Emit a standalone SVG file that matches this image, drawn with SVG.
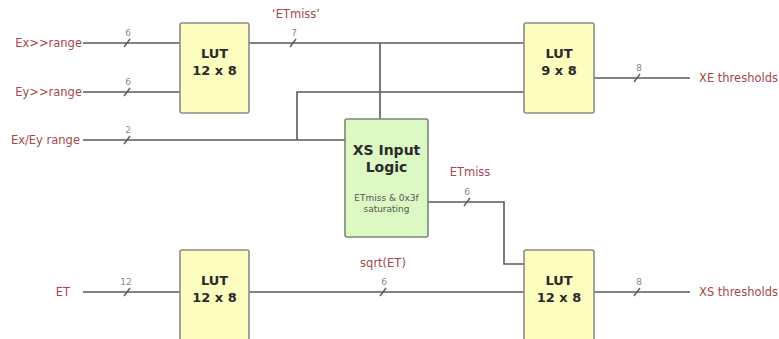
<svg xmlns="http://www.w3.org/2000/svg" width="779" height="339" viewBox="0 0 779 339">
  <style>
    .wire { fill: none; stroke: #5a5a5a; stroke-width: 1.6; }
    .tick { stroke: #5a5a5a; stroke-width: 1.4; }
    .lut { fill: #fdfdc0; stroke: #8c8c80; stroke-width: 1.6; }
    .logic { fill: #dcf9c4; stroke: #7c8874; stroke-width: 1.6; }
    .title { font-family: "DejaVu Sans", sans-serif; font-weight: bold; font-size: 13px; fill: #2a2a2a; text-anchor: middle; }
    .sub { font-family: "DejaVu Sans", sans-serif; font-size: 9px; fill: #555; text-anchor: middle; }
    .sig { font-family: "DejaVu Sans", sans-serif; font-size: 11.5px; fill: #a8464c; }
    .width { font-family: "DejaVu Sans", sans-serif; font-size: 9px; fill: #8a8a8a; text-anchor: middle; }
  </style>

  <g id="connectors">
    <!-- inputs to first LUT -->
    <path class="wire" d="M83 43 H180"/>
    <path class="wire" d="M83 92 H180"/>
    <!-- range bits into XS input logic -->
    <path class="wire" d="M83 140 H345"/>
    <path class="wire" d="M297 140 V92 H524"/>
    <!-- 'ETmiss' bus -->
    <path class="wire" d="M249 43 H524"/>
    <path class="wire" d="M380 43 V119"/>
    <!-- XE thresholds -->
    <path class="wire" d="M594 78 H690"/>
    <!-- ET path -->
    <path class="wire" d="M83 292 H180"/>
    <path class="wire" d="M249 292 H524"/>
    <!-- saturated ETmiss -->
    <path class="wire" d="M428 202 H504 V264 H524"/>
    <!-- XS thresholds -->
    <path class="wire" d="M594 292 H690"/>

    <!-- bus width ticks -->
    <line class="tick" x1="124" y1="47" x2="130" y2="39"/>
    <line class="tick" x1="124" y1="96" x2="130" y2="88"/>
    <line class="tick" x1="124" y1="144" x2="130" y2="136"/>
    <line class="tick" x1="290" y1="47" x2="296" y2="39"/>
    <line class="tick" x1="634" y1="82" x2="640" y2="74"/>
    <line class="tick" x1="124" y1="296" x2="130" y2="288"/>
    <line class="tick" x1="380" y1="296" x2="386" y2="288"/>
    <line class="tick" x1="464" y1="206" x2="470" y2="198"/>
    <line class="tick" x1="634" y1="296" x2="640" y2="288"/>

    <text class="width" x="128" y="36">6</text>
    <text class="width" x="128" y="85">6</text>
    <text class="width" x="128" y="133">2</text>
    <text class="width" x="294" y="36">7</text>
    <text class="width" x="639" y="71">8</text>
    <text class="width" x="126" y="285">12</text>
    <text class="width" x="384" y="285">6</text>
    <text class="width" x="467" y="195">6</text>
    <text class="width" x="639" y="285">8</text>

    <!-- signal names -->
    <text class="sig" x="82" y="47" text-anchor="end">Ex&gt;&gt;range</text>
    <text class="sig" x="82" y="96" text-anchor="end">Ey&gt;&gt;range</text>
    <text class="sig" x="80" y="144" text-anchor="end">Ex/Ey range</text>
    <text class="sig" x="70" y="296" text-anchor="end">ET</text>
    <text class="sig" x="296" y="18" text-anchor="middle">‘ETmiss’</text>
    <text class="sig" x="470" y="176" text-anchor="middle">ETmiss</text>
    <text class="sig" x="383" y="267" text-anchor="middle">sqrt(ET)</text>
    <text class="sig" x="699" y="82">XE thresholds</text>
    <text class="sig" x="699" y="296">XS thresholds</text>
  </g>

  <g id="lut-ex-ey">
    <rect class="lut" x="180" y="23" width="69" height="90" rx="2"/>
    <text class="title" x="214.5" y="58">LUT</text>
    <text class="title" x="214.5" y="75">12 x 8</text>
  </g>

  <g id="lut-xe">
    <rect class="lut" x="524" y="23" width="70" height="90" rx="2"/>
    <text class="title" x="559" y="58">LUT</text>
    <text class="title" x="559" y="75">9 x 8</text>
  </g>

  <g id="xs-input-logic">
    <rect class="logic" x="345" y="119" width="83" height="118" rx="2"/>
    <text class="title" x="386.5" y="155" style="font-size:14px">XS Input</text>
    <text class="title" x="386.5" y="172" style="font-size:14px">Logic</text>
    <text class="sub" x="386.5" y="201">ETmiss &amp; 0x3f</text>
    <text class="sub" x="386.5" y="212">saturating</text>
  </g>

  <g id="lut-et">
    <rect class="lut" x="180" y="250" width="69" height="92" rx="2"/>
    <text class="title" x="214.5" y="285">LUT</text>
    <text class="title" x="214.5" y="302">12 x 8</text>
  </g>

  <g id="lut-xs">
    <rect class="lut" x="524" y="250" width="70" height="92" rx="2"/>
    <text class="title" x="559" y="285">LUT</text>
    <text class="title" x="559" y="302">12 x 8</text>
  </g>
</svg>
